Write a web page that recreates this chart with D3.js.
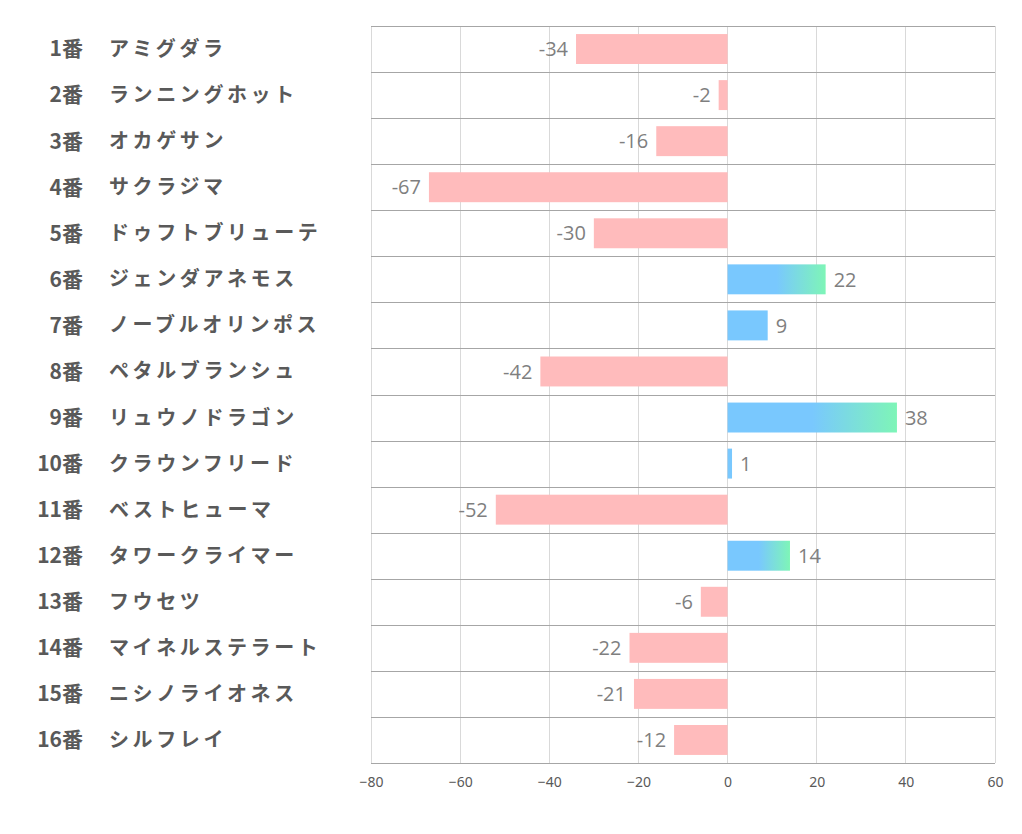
<!DOCTYPE html>
<html><head><meta charset="utf-8">
<script src="https://cdn.jsdelivr.net/npm/d3@7"></script>
<style>body{margin:0;background:#fff;}svg{display:block;}</style>
</head><body><svg id="c" width="1022" height="834"></svg>
<script>
const numbers = ["1番","2番","3番","4番","5番","6番","7番","8番","9番","10番","11番","12番","13番","14番","15番","16番"];
const names = ["アミグダラ","ランニングホット","オカゲサン","サクラジマ","ドゥフトブリューテ","ジェンダアネモス","ノーブルオリンポス","ペタルブランシュ","リュウノドラゴン","クラウンフリード","ベストヒューマ","タワークライマー","フウセツ","マイネルステラート","ニシノライオネス","シルフレイ"];
const values = [-34,-2,-16,-67,-30,22,9,-42,38,1,-52,14,-6,-22,-21,-12];
const xTicks = [-80,-60,-40,-20,0,20,40,60];

const svg = d3.select("#c");
const L=371, R=995, T=26, B=763;
const x = d3.scaleLinear().domain([-80,60]).range([L,R]);
const y = d3.scaleBand().domain(d3.range(values.length)).range([T,B]).paddingInner(0.35).paddingOuter(0.175);
const rowH = (B-T)/values.length;

const defs = svg.append("defs");
const g = defs.append("linearGradient").attr("id","gr").attr("x1","0").attr("x2","1").attr("y1","0").attr("y2","0");
g.append("stop").attr("offset","0.5").attr("stop-color","#79c8fe");
g.append("stop").attr("offset","1").attr("stop-color","#7ef5b7");

// vertical gridlines
svg.append("g").selectAll("line").data(xTicks).join("line")
  .attr("x1",d=>x(d)).attr("x2",d=>x(d)).attr("y1",T).attr("y2",B)
  .attr("stroke","#d9d9d9").attr("stroke-width",1).attr("shape-rendering","crispEdges");
// horizontal lines
svg.append("g").selectAll("line").data(d3.range(values.length+1)).join("line")
  .attr("x1",L).attr("x2",R).attr("y1",i=>Math.round(T+i*rowH)+0.5).attr("y2",i=>Math.round(T+i*rowH)+0.5)
  .attr("stroke","#a6a6a6").attr("stroke-width",1);

// bars
svg.append("g").selectAll("rect").data(values).join("rect")
  .attr("x",d=>x(Math.min(0,d))).attr("width",d=>Math.abs(x(d)-x(0)))
  .attr("y",(d,i)=>y(i)).attr("height",y.bandwidth())
  .attr("fill",d=>d<0?"#ffbbbc":(d>=10?"url(#gr)":"#79c8fe"));

// value labels
svg.append("g").selectAll("text").data(values).join("text")
  .attr("x",d=>d<0?x(d)-8:x(d)+8)
  .attr("y",(d,i)=>y(i)+y.bandwidth()/2)
  .attr("dy","0.36em")
  .attr("text-anchor",d=>d<0?"end":"start")
  .attr("font-family","'Open Sans','Noto Sans',sans-serif").attr("font-size",20)
  .attr("fill","#7f7f7f").text(d=>d);

// category labels
const lab = svg.append("g").attr("font-family","'Noto Sans CJK JP','Noto Sans',sans-serif").attr("font-weight","bold").attr("fill","#595959");
lab.selectAll("text.n").data(numbers).join("text").attr("class","n")
  .attr("x",83).attr("y",(d,i)=>T+(i+0.5)*rowH).attr("dy","0.35em").attr("text-anchor","end")
  .attr("font-size",21).text(d=>d);
lab.selectAll("text.m").data(names).join("text").attr("class","m")
  .attr("x",109).attr("y",(d,i)=>T+(i+0.5)*rowH).attr("dy","0.35em")
  .attr("font-size",20).attr("letter-spacing","3.6px").text(d=>d);

// x axis
const ax = svg.append("g").attr("transform",`translate(0,${B})`)
  .call(d3.axisBottom(x).tickValues(xTicks).tickSize(0).tickPadding(14));
ax.select(".domain").remove();
ax.selectAll("text").attr("font-family","'Noto Sans',sans-serif").attr("font-size",14).attr("fill","#595959");
</script></body></html>
